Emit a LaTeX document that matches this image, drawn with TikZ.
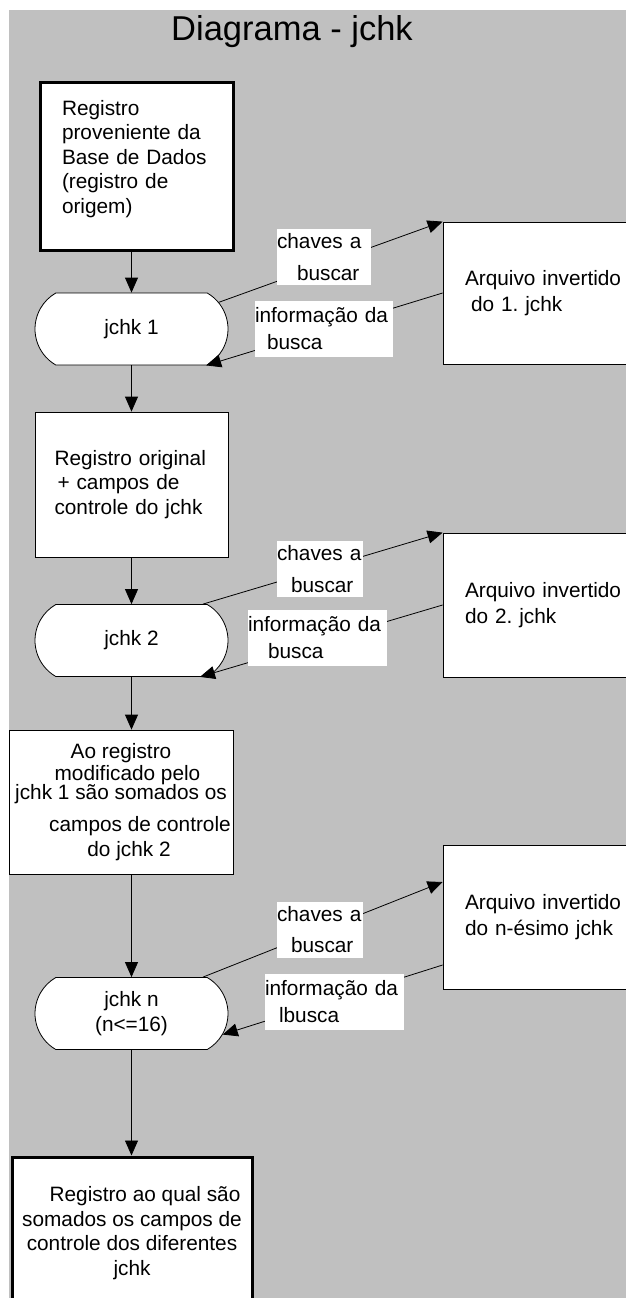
\documentclass[tikz,border=0pt]{standalone}
\usepackage{fontspec}
\setmainfont{Liberation Sans}
\usetikzlibrary{arrows.meta,shapes.misc}
\frenchspacing

\definecolor{paper}{RGB}{192,192,192}
\newcommand\boxfont{\fontsize{20.8}{24.5}\selectfont}
\newcommand\diagtitlefont{\fontsize{34.5}{41}\selectfont}

\tikzset{
    box/.style={draw, fill=white, line width=0.8pt, inner sep=0pt},
    heavybox/.style={box, line width=3pt},
    jchk/.style={draw, fill=white, line width=0.8pt, rounded rectangle,
        rounded rectangle arc length=120, minimum width=193pt,
        minimum height=72pt, inner sep=0pt, align=center},
    tag/.style={fill=white, inner sep=0pt, align=left, minimum height=56pt},
    flow/.style={-{Triangle[length=15pt, width=13pt]}, line width=0.8pt},
}

\begin{document}
\begin{tikzpicture}[x=1pt, y=-1pt, font=\boxfont]

            % the frame
            \useasboundingbox (0, 0) rectangle (626, 1298);
            \path[clip] (0, 0) rectangle (626, 1298);
            \fill[paper] (9, 10) rectangle (626, 1298);

            % title
            \node[font=\diagtitlefont] (title) at (292, 32) {Diagrama - jchk};

            % the chain
            \node[heavybox, minimum width=193pt, minimum height=168pt, text width=149pt, align=left]
                (reg) at (136.5, 166) {Registro\\proveniente da\\Base de Dados\\(registro de\\origem)\\[-13pt]\strut};
            \node[jchk] (j1) at (131.5, 329) {jchk 1};
            \node[box, minimum width=193pt, minimum height=145pt, text width=154pt, align=left]
                (reg2) at (131.5, 484.5) {Registro original\\\hspace*{3pt}+ campos de\\controle do jchk};
            \node[jchk] (j2) at (131.5, 640.5) {jchk 2};
            \node[box, minimum width=224pt, minimum height=144pt, align=center]
                (reg3) at (121, 802) {Ao registro\\[-2pt]\hspace*{13pt}modificado pelo\\[-6pt]jchk 1 são somados os\hspace*{11pt}\\[8pt]\hspace*{38pt}campos de controle\\\hspace*{16pt}do jchk 2};
            \node[jchk] (jn) at (131.5, 1013.5) {jchk n\\[1pt](n<=16)};
            \node[heavybox, minimum width=240pt, minimum height=152pt, align=center]
                (regf) at (132, 1233) {\hspace*{26pt}Registro ao qual são\\somados os campos de\\controle dos diferentes\hspace*{10pt}\\jchk};

            % inverted files
            \node[box, minimum height=142pt, text width=160pt, inner xsep=22pt, align=left]
                (inv1) at (545, 293) {Arquivo invertido\\[1pt]\hspace*{6pt}do 1. jchk};
            \node[box, minimum height=144pt, text width=160pt, inner xsep=22pt, align=left]
                (inv2) at (545, 605) {Arquivo invertido\\[1pt]do 2. jchk};
            \node[box, minimum height=144pt, text width=160pt, inner xsep=22pt, align=left]
                (invn) at (545, 917) {Arquivo invertido\\[1pt]do n-ésimo jchk};

            % arrows down the chain
            \foreach \a/\b in {reg/j1, j1/reg2, reg2/j2, j2/reg3, reg3/jn, jn/regf} {
                \draw[flow] (j1 |- \a.south) -- (j1 |- \b.north);
            }

            % lookups
            \draw[flow] (j1.17) -- (inv1.north west);
            \draw[flow] (inv1.west) -- (j1.-26);
            \draw[flow] (j2.27) -- (inv2.north west);
            \draw[flow] (inv2.west) -- (j2.-28);
            \draw[flow] (jn.27) -- ([yshift=35pt]invn.west);
            \draw[flow] ([yshift=-48pt]invn.west) -- (jn.-13);

            % labels
            \node[tag, text width=94pt] (ask1) at (324, 257) {chaves a\\[7pt]\hspace*{20pt}buscar};
            \node[tag, text width=138pt] (get1) at (324, 329) {informação da\\[2.5pt]\hspace*{12pt}busca};
            \node[tag, text width=86pt] (ask2) at (320, 569) {chaves a\\[7pt]\hspace*{14pt}buscar};
            \node[tag, text width=139pt] (get2) at (317.5, 638) {informação da\\[2.5pt]\hspace*{20pt}busca};
            \node[tag, text width=86pt] (askn) at (320, 929.5) {chaves a\\[7pt]\hspace*{14pt}buscar};
            \node[tag, text width=139pt] (getn) at (334.5, 1001.5) {informação da\\[2.5pt]\hspace*{14pt}lbusca};

\end{tikzpicture}
\end{document}
